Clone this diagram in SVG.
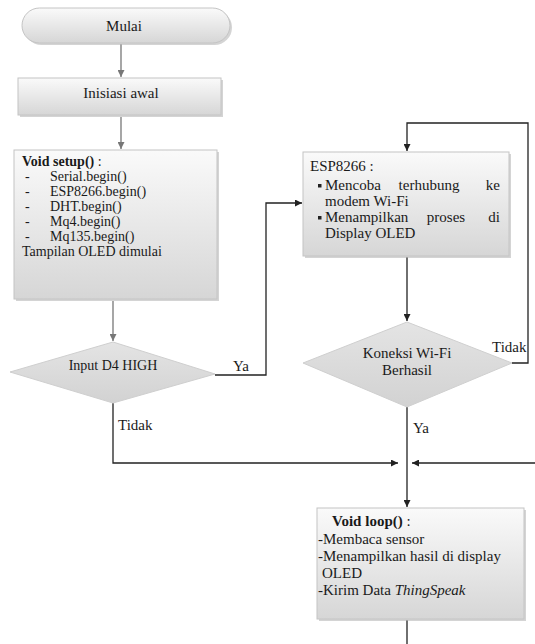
<svg xmlns="http://www.w3.org/2000/svg" width="535" height="644" viewBox="0 0 535 644">
<style>
text{font-family:"Liberation Serif","Times New Roman",serif;font-size:15px;fill:#1a1a1a}
.s{font-size:14px}
.b{font-weight:bold}
.i{font-style:italic}
.c{text-anchor:middle}
.e{text-anchor:end}
.box{fill:url(#g);stroke:#c4c4c4;stroke-width:1}
.dia{fill:url(#gd);stroke:#cfcfcf;stroke-width:1}
.sh{fill:#b8b8b8;opacity:0.6}
.lk{fill:none;stroke:#222;stroke-width:1.3}
.lg{fill:none;stroke:#777;stroke-width:1.3}
</style>
<defs>
<linearGradient id="g" x1="0" y1="0" x2="0" y2="1">
<stop offset="0" stop-color="#fafafa"/>
<stop offset="1" stop-color="#d6d6d6"/>
</linearGradient>
<linearGradient id="gd" x1="0" y1="0" x2="0" y2="1">
<stop offset="0" stop-color="#e4e4e4"/>
<stop offset="1" stop-color="#d2d2d2"/>
</linearGradient>
<marker id="ak" viewBox="0 0 10 10" refX="10" refY="5" markerWidth="7" markerHeight="7" markerUnits="userSpaceOnUse" orient="auto">
<path d="M0,0L10,5L0,10z" fill="#222"/>
</marker>
<marker id="ag" viewBox="0 0 10 10" refX="10" refY="5" markerWidth="7" markerHeight="7" markerUnits="userSpaceOnUse" orient="auto">
<path d="M0,0L10,5L0,10z" fill="#777"/>
</marker>
</defs>

<g id="connectors">
<path class="lg" d="M121,44V77" marker-end="url(#ag)"/>
<path class="lg" d="M121,117V149" marker-end="url(#ag)"/>
<path class="lg" d="M113,301V341" marker-end="url(#ag)"/>
<path class="lk" d="M215,375H266V203H302" marker-end="url(#ak)"/>
<path class="lk" d="M113,403V463H398" marker-end="url(#ak)"/>
<path class="lk" d="M535,463H412" marker-end="url(#ak)"/>
<path class="lk" d="M407,257V321" marker-end="url(#ak)"/>
<path class="lk" d="M512,363H528V123H407V151" marker-end="url(#ak)"/>
<path class="lk" d="M407,407V507" marker-end="url(#ak)"/>
<path class="lk" d="M407,620V644"/>
<text x="233" y="371">Ya</text>
<text x="118" y="430">Tidak</text>
<text x="492" y="352">Tidak</text>
<text x="413" y="433">Ya</text>
</g>

<g id="mulai">
<rect class="sh" x="24" y="10" width="208" height="35" rx="17.5"/>
<rect class="box" x="22" y="8" width="208" height="35" rx="17.5"/>
<text class="c" x="124" y="31">Mulai</text>
</g>

<g id="inisiasi">
<rect class="sh" x="20" y="80" width="203" height="37"/>
<rect class="box" x="18" y="78" width="203" height="37"/>
<text class="c" x="121" y="98">Inisiasi awal</text>
</g>

<g id="setup">
<rect class="sh" x="16" y="152" width="203" height="149"/>
<rect class="box" x="14" y="150" width="203" height="149"/>
<text class="s" x="22" y="166"><tspan class="b">Void setup()</tspan> :</text>
<text class="s" y="181"><tspan x="25">-</tspan><tspan x="50">Serial.begin()</tspan></text>
<text class="s" y="196"><tspan x="25">-</tspan><tspan x="50">ESP8266.begin()</tspan></text>
<text class="s" y="211"><tspan x="25">-</tspan><tspan x="50">DHT.begin()</tspan></text>
<text class="s" y="226"><tspan x="25">-</tspan><tspan x="50">Mq4.begin()</tspan></text>
<text class="s" y="241"><tspan x="25">-</tspan><tspan x="50">Mq135.begin()</tspan></text>
<text class="s" x="22" y="256">Tampilan OLED dimulai</text>
</g>

<g id="input-d4">
<polygon class="dia" points="113,342 215,374 113,403 10,372"/>
<text class="c s" x="113" y="370">Input D4 HIGH</text>
</g>

<g id="esp8266">
<rect class="sh" x="305" y="154" width="206" height="104"/>
<rect class="box" x="303" y="152" width="206" height="104"/>
<text x="310" y="171">ESP8266 :</text>
<rect x="318" y="184" width="3.5" height="3.5" fill="#222"/>
<text x="325" y="190">Mencoba</text>
<text class="c" x="429" y="190">terhubung</text>
<text class="e" x="500" y="190">ke</text>
<text x="325" y="206">modem Wi-Fi</text>
<rect x="318" y="216" width="3.5" height="3.5" fill="#222"/>
<text x="325" y="222">Menampilkan</text>
<text class="c" x="446" y="222">proses</text>
<text class="e" x="500" y="222">di</text>
<text x="325" y="238">Display OLED</text>
</g>

<g id="koneksi">
<polygon class="dia" points="407,322 512,363 407,407 303,363"/>
<text class="c" x="407" y="358">Koneksi Wi-Fi</text>
<text class="c" x="407" y="375">Berhasil</text>
</g>

<g id="loop">
<rect class="sh" x="319" y="510" width="207" height="111"/>
<rect class="box" x="317" y="508" width="207" height="111"/>
<text x="332" y="526"><tspan class="b">Void loop()</tspan> :</text>
<text x="318" y="544">-Membaca sensor</text>
<text x="318" y="561">-Menampilkan hasil di display</text>
<text x="322" y="578">OLED</text>
<text x="318" y="595">-Kirim Data <tspan class="i">ThingSpeak</tspan></text>
</g>
</svg>
